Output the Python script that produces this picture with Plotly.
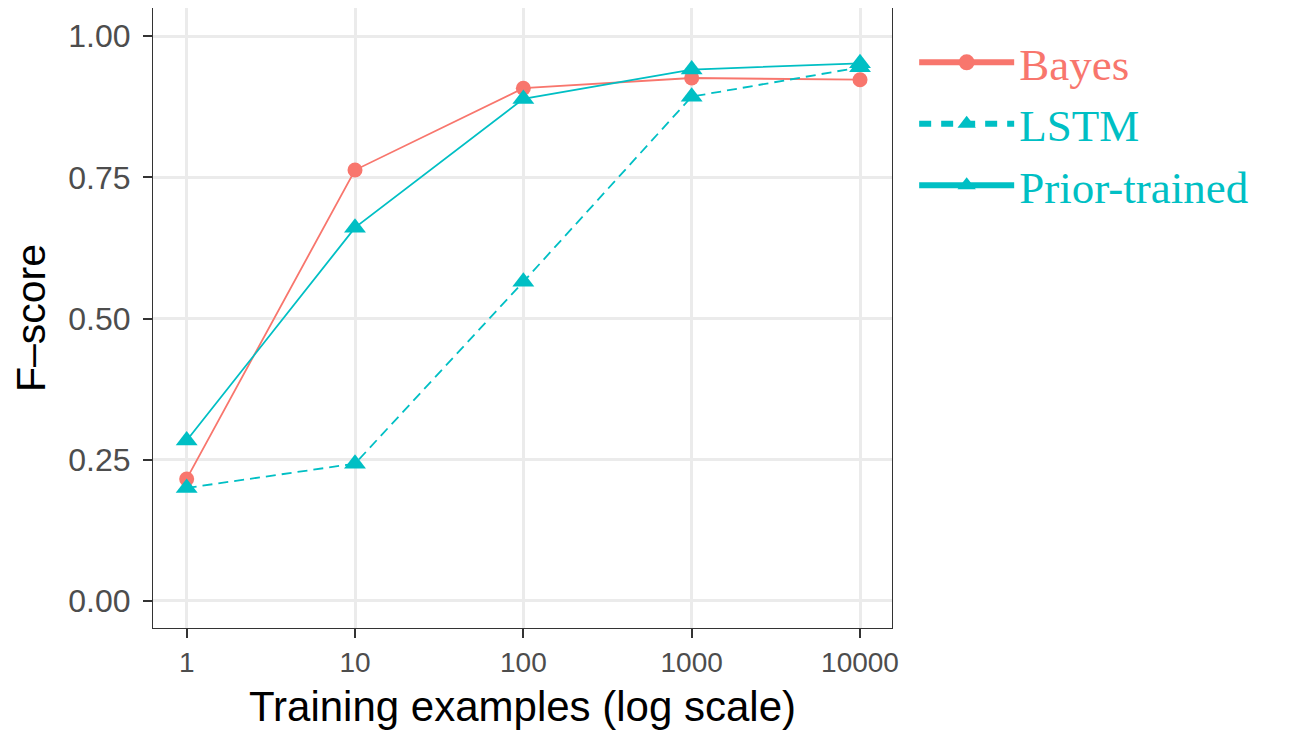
import plotly.graph_objects as go

examples = [1, 10, 100, 1000, 10000]
bayes = [0.216, 0.763, 0.908, 0.926, 0.923]
lstm = [0.200, 0.243, 0.565, 0.893, 0.945]
prior = [0.284, 0.661, 0.889, 0.941, 0.952]
y_ticks = [0.0, 0.25, 0.5, 0.75, 1.0]
y_labels = ["0.00", "0.25", "0.50", "0.75", "1.00"]
x_labels = ["1", "10", "100", "1000", "10000"]
series_names = ["Bayes", "LSTM", "Prior-trained"]

RED = "#F8766D"
TEAL = "#00BFC4"

styles = [
    dict(color=RED, dash="solid", symbol="circle", size=15),
    dict(color=TEAL, dash="10px,6px", symbol="triangle-up", size=19),
    dict(color=TEAL, dash="solid", symbol="triangle-up", size=19),
]
data = [bayes, lstm, prior]

fig = go.Figure()
for name, vals, st in zip(series_names, data, styles):
    fig.add_trace(go.Scatter(
        x=examples, y=vals, mode="lines+markers", showlegend=False,
        line=dict(color=st["color"], width=1.8, dash=st["dash"]),
        marker=dict(symbol=st["symbol"], size=st["size"], color=st["color"])))
# legend entries (thicker keys, like the reference)
for name, st in zip(series_names, styles):
    fig.add_trace(go.Scatter(
        x=[None], y=[None], mode="lines+markers",
        name=f"<span style='color:{st['color']}'>{name}</span>",
        line=dict(color=st["color"], width=6, dash="12px,10px" if st["dash"] != "solid" else "solid"),
        marker=dict(symbol=st["symbol"], size=30, color=st["color"])))

fig.update_layout(
    width=1286, height=723,
    margin=dict(l=145, r=402, t=0, b=103),
    paper_bgcolor="white", plot_bgcolor="white",
    font=dict(family="Liberation Sans, Arial, sans-serif", color="#000000"),
    legend=dict(
        x=1.03, y=0.97, xanchor="left", yanchor="top",
        font=dict(family="Liberation Serif, Times New Roman, serif", size=45),
        itemsizing="trace", tracegroupgap=0, itemwidth=95,
        bgcolor="rgba(0,0,0,0)"),
    showlegend=True,
)
fig.update_xaxes(
    type="log", range=[-0.2, 4.19],
    tickvals=examples, ticktext=x_labels,
    tickfont=dict(size=28, color="#4D4D4D"),
    ticks="outside", ticklen=9, tickcolor="#333333", tickwidth=2,
    showgrid=True, gridcolor="#EBEBEB", gridwidth=3,
    showline=True, linecolor="#333333", linewidth=1.2, mirror=True,
    zeroline=False,
    title=dict(text="Training examples (log scale)", font=dict(size=42, color="#000000"), standoff=14),
)
fig.update_yaxes(
    range=[-0.048, 1.05],
    tickvals=y_ticks, ticktext=y_labels,
    tickfont=dict(size=32, color="#4D4D4D"),
    ticks="outside", ticklen=9, tickcolor="#333333", tickwidth=2,
    ticklabelstandoff=6,
    showgrid=True, gridcolor="#EBEBEB", gridwidth=3,
    showline=True, linecolor="#333333", linewidth=1.2, mirror=True,
    zeroline=False,
    title=dict(text="F–score", font=dict(size=41, color="#000000"), standoff=12),
)

fig.write_html("out.html")
